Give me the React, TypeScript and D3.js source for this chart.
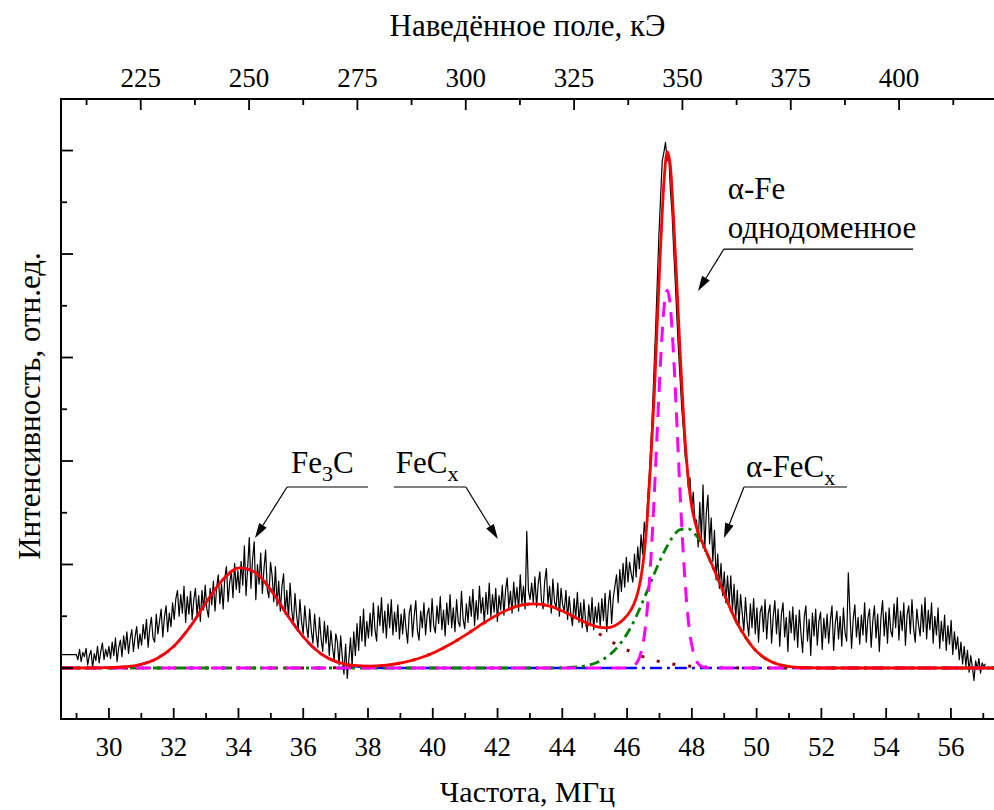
import React from 'react';
import * as d3 from 'd3';

const WIDTH = 994;
const HEIGHT = 810;
const FONT = 'Liberation Serif';

// ---- axes ----
const freqExtent: [number, number] = [28.52, 57.33];
const fieldExtent: [number, number] = [206.6, 421.9];
const intensityExtent: [number, number] = [-0.493, 5.498];

const freqMajor = [30, 32, 34, 36, 38, 40, 42, 44, 46, 48, 50, 52, 54, 56];
const freqMinor = [29, 31, 33, 35, 37, 39, 41, 43, 45, 47, 49, 51, 53, 55, 57];
const fieldMajor = [225, 250, 275, 300, 325, 350, 375, 400];
const fieldMinor = [212.5, 237.5, 262.5, 287.5, 312.5, 337.5, 362.5, 387.5, 412.5];
const intensityMajor = [0, 1, 2, 3, 4, 5];
const intensityMinor = [0.5, 1.5, 2.5, 3.5, 4.5];

// ---- measured spectrum (black) ----
const signalLead: [number, number] = [28.52, 0.13];
const signalStart = 28.992;
const signalStep = 0.0504;
const signal = [
  0.13,0.08,0.18,0.06,0.15,0.11,0.19,0.03,0.12,0.17,0.00,0.14,0.07,0.21,0.05,0.16,0.24,0.08,0.18,0.11,
  0.21,0.09,0.25,0.12,0.29,0.06,0.20,0.27,0.11,0.31,0.18,0.35,0.14,0.28,0.37,0.16,0.30,0.40,0.19,0.33,
  0.22,0.42,0.28,0.47,0.20,0.38,0.49,0.29,0.25,0.52,0.33,0.45,0.57,0.30,0.49,0.60,0.35,0.53,0.40,0.63,
  0.47,0.67,0.75,0.50,0.71,0.53,0.79,0.44,0.69,0.52,0.74,0.47,0.66,0.77,0.51,0.70,0.45,0.75,0.56,0.80,
  0.57,0.49,0.77,0.61,0.84,0.55,0.78,0.90,0.62,0.81,0.57,0.87,0.98,0.64,0.83,0.93,0.68,1.01,0.76,0.94,
  0.73,1.03,0.80,1.18,0.70,0.97,1.26,0.77,1.05,1.22,0.66,1.00,0.81,1.11,0.72,0.96,1.14,0.76,0.68,1.02,
  0.89,0.64,0.98,0.60,0.84,0.55,0.79,0.91,0.52,0.75,0.48,0.82,0.56,0.42,0.72,0.51,0.37,0.66,0.45,0.33,
  0.60,0.41,0.29,0.57,0.36,0.24,0.52,0.33,0.20,0.49,0.28,0.16,0.45,0.24,0.41,0.12,0.36,0.20,0.07,0.33,
  0.25,0.03,0.31,0.10,-0.06,0.23,-0.10,0.08,0.29,0.02,0.35,0.12,0.43,0.17,0.50,0.26,0.57,0.21,0.45,0.29,
  0.53,0.31,0.63,0.37,0.26,0.60,0.41,0.68,0.34,0.55,0.29,0.62,0.39,0.66,0.32,0.54,0.35,0.61,0.28,0.52,
  0.33,0.57,0.38,0.24,0.53,0.61,0.30,0.50,0.65,0.36,0.27,0.55,0.39,0.63,0.32,0.52,0.58,0.35,0.67,0.41,
  0.34,0.60,0.43,0.69,0.37,0.56,0.31,0.63,0.42,0.71,0.39,0.58,0.35,0.66,0.45,0.40,0.74,0.47,0.38,0.62,
  0.44,0.69,0.50,0.76,0.41,0.65,0.47,0.79,0.53,0.68,0.43,0.73,0.52,0.82,0.49,0.71,0.54,0.77,0.45,0.70,
  0.56,0.80,0.51,0.75,0.87,0.58,0.74,0.53,0.83,0.61,0.78,0.55,0.90,0.62,0.79,0.57,1.32,0.75,0.66,0.82,
  0.63,0.88,0.59,0.81,0.93,0.65,0.57,0.84,0.96,0.62,0.79,0.53,0.86,0.64,0.58,0.82,0.50,0.77,0.61,0.55,
  0.75,0.47,0.69,0.52,0.41,0.67,0.48,0.73,0.44,0.63,0.39,0.66,0.46,0.35,0.61,0.42,0.68,0.37,0.59,0.44,
  0.63,0.40,0.67,0.46,0.72,0.35,0.61,0.75,0.43,0.68,0.79,0.90,0.63,0.95,0.74,1.01,0.78,1.07,0.83,1.02,
  0.91,0.83,1.10,0.88,1.17,0.96,1.29,1.10,1.41,1.25,1.62,1.85,2.15,2.48,2.90,3.30,3.75,4.20,4.55,4.90,
  4.98,5.08,4.90,4.95,4.62,4.40,4.05,3.72,3.38,3.05,2.78,2.50,2.30,2.05,1.95,1.74,1.84,1.52,1.70,1.41,
  1.43,1.17,1.60,1.25,1.77,1.13,1.50,1.67,1.20,1.45,1.03,1.33,0.85,1.10,0.77,1.01,0.70,0.93,0.63,0.89,
  0.63,0.89,0.55,0.81,0.47,0.75,0.40,0.71,0.53,0.36,0.68,0.45,0.31,0.62,0.39,0.67,0.33,0.58,0.25,0.54,
  0.60,0.35,0.66,0.28,0.53,0.61,0.24,0.50,0.65,0.33,0.57,0.21,0.52,0.63,0.30,0.49,0.16,0.55,0.34,0.59,
  0.27,0.51,0.20,0.56,0.33,0.15,0.49,0.60,0.26,0.47,0.12,0.53,0.31,0.57,0.22,0.45,0.54,0.18,0.48,0.29,
  0.52,0.24,0.46,0.60,0.17,0.43,0.55,0.28,0.50,0.21,0.58,0.34,0.26,0.92,0.53,0.19,0.47,0.61,0.30,0.49,
  0.23,0.51,0.32,0.63,0.25,0.48,0.57,0.20,0.45,0.60,0.29,0.52,0.16,0.49,0.65,0.31,0.54,0.24,0.58,0.36,
  0.30,0.62,0.39,0.68,0.27,0.55,0.36,0.63,0.22,0.51,0.60,0.33,0.66,0.38,0.25,0.57,0.42,0.31,0.61,0.35,
  0.68,0.28,0.56,0.37,0.63,0.24,0.50,0.32,0.58,0.19,0.45,0.26,0.51,0.17,0.41,0.23,0.46,0.13,0.35,0.18,
  0.30,0.08,0.25,0.04,0.21,0.02,0.17,-0.04,0.12,0.01,-0.12,0.07,-0.01,0.09,-0.05,0.05,0.01,0.04,
];

// ---- fit components [frequency, intensity] ----
const fitTotal: [number, number][] = [
  [28.52,0],[29.5,0.001],[30,0.003],[30.5,0.012],[31.01,0.036],[31.51,0.096],[32.02,0.215],[32.52,0.405],
  [33.02,0.642],[33.53,0.858],[34.03,0.967],[34.54,0.918],[35.04,0.735],[35.54,0.497],[36.05,0.283],
  [36.55,0.137],[37.06,0.057],[37.56,0.025],[38.06,0.018],[38.57,0.028],[39.07,0.052],[39.58,0.094],
  [40.08,0.155],[40.58,0.236],[41.09,0.334],[41.59,0.438],[42.1,0.531],[42.6,0.597],[43.1,0.62],
  [43.61,0.598],[44.11,0.535],[44.62,0.454],[45.12,0.394],[45.37,0.388],[45.62,0.409],[45.88,0.465],
  [46.13,0.567],[46.23,0.633],[46.33,0.728],[46.43,0.876],[46.53,1.109],[46.63,1.474],[46.73,1.99],
  [46.84,2.65],[46.94,3.4],[47.04,4.11],[47.14,4.7],[47.24,4.99],[47.34,4.84],[47.44,4.31],[47.54,3.69],
  [47.64,3.03],[47.74,2.45],[47.84,2.0],[47.94,1.68],[48.04,1.49],[48.14,1.36],[48.24,1.27],[48.34,1.2],
  [48.44,1.13],[48.54,1.058],[48.64,0.985],[48.9,0.792],[49.15,0.603],[49.4,0.434],[49.66,0.296],
  [49.91,0.19],[50.16,0.116],[50.41,0.067],[50.66,0.036],[51.17,0.009],[51.67,0.002],[52.18,0],[57.33,0],
];
const compFe3C: [number, number][] = [
  [28.52,0],[29.5,0.001],[30,0.003],[30.5,0.012],[31.01,0.036],[31.51,0.096],[32.02,0.215],[32.52,0.405],
  [33.02,0.642],[33.53,0.858],[34.03,0.967],[34.54,0.918],[35.04,0.735],[35.54,0.497],[36.05,0.283],
  [36.55,0.136],[37.06,0.055],[37.56,0.019],[38.06,0.005],[38.57,0.001],[39.07,0],[57.33,0],
];
const compFeCx: [number, number][] = [
  [28.52,0],[36.05,0],[37.06,0.002],[37.56,0.006],[38.06,0.013],[38.57,0.027],[39.07,0.052],[39.58,0.094],
  [40.08,0.155],[40.58,0.236],[41.09,0.334],[41.59,0.438],[42.1,0.531],[42.6,0.597],[43.1,0.62],
  [43.61,0.597],[44.11,0.531],[44.62,0.438],[45.12,0.334],[45.62,0.236],[46.13,0.155],[46.63,0.094],
  [47.14,0.052],[47.64,0.027],[48.14,0.013],[49.15,0.002],[50.16,0],[57.33,0],
];
const compAlphaFeCx: [number, number][] = [
  [28.52,0],[43.61,0],[44.11,0.004],[44.62,0.016],[45.12,0.06],[45.62,0.173],[46.13,0.402],[46.38,0.565],
  [46.63,0.75],[46.88,0.942],[47.14,1.119],[47.39,1.257],[47.64,1.337],[47.89,1.344],[48.14,1.278],
  [48.4,1.15],[48.64,0.979],[48.9,0.788],[49.15,0.6],[49.4,0.432],[49.66,0.295],[49.91,0.19],[50.16,0.116],
  [50.66,0.036],[51.17,0.009],[51.67,0.002],[52.18,0],[57.33,0],
];
const compAlphaFe: [number, number][] = [
  [28.52,0],[45.8,0],[46.14,0.01],[46.24,0.028],[46.34,0.07],[46.44,0.161],[46.54,0.33],[46.64,0.63],
  [46.74,1.08],[46.84,1.67],[46.94,2.35],[47.04,3.0],[47.14,3.48],[47.24,3.65],[47.34,3.48],[47.44,3.0],
  [47.54,2.35],[47.64,1.67],[47.74,1.08],[47.84,0.63],[47.94,0.33],[48.04,0.161],[48.14,0.07],
  [48.24,0.028],[48.34,0.01],[48.54,0],[57.33,0],
];

// ---- annotations (data coordinates) ----
type Part = { t: string; sub?: boolean };
type Note = {
  lines: { parts: Part[]; v: number }[];
  textF: number;
  barFrom: number;
  barTo: number;
  barV: number;
  elbowF: number;
  tip: [number, number];
};
const notes: Note[] = [
  { lines: [{ parts: [{ t: 'Fe' }, { t: '3', sub: true }, { t: 'C' }], v: 1.884 }],
    textF: 35.62, barFrom: 35.5, barTo: 38.0, barV: 1.749, elbowF: 35.5, tip: [34.51, 1.256] },
  { lines: [{ parts: [{ t: 'FeC' }, { t: 'x', sub: true }], v: 1.884 }],
    textF: 38.86, barFrom: 38.8, barTo: 41.02, barV: 1.749, elbowF: 41.02, tip: [42.01, 1.246] },
  { lines: [{ parts: [{ t: 'α-Fe' }], v: 4.531 }, { parts: [{ t: 'однодоменное' }], v: 4.155 }],
    textF: 49.11, barFrom: 48.99, barTo: 54.83, barV: 4.048, elbowF: 48.99, tip: [48.19, 3.643] },
  { lines: [{ parts: [{ t: 'α-FeC' }, { t: 'x', sub: true }], v: 1.845 }],
    textF: 49.67, barFrom: 49.61, barTo: 52.79, barV: 1.749, elbowF: 49.61, tip: [48.99, 1.256] },
];

const axisTitleBottom = 'Частота, МГц';
const axisTitleTop = 'Наведённое поле, кЭ';
const axisTitleLeft = 'Интенсивность, отн.ед.';

export default function App() {
  const L = 61, R = 994, T = 99, B = 719;
  const x = d3.scaleLinear().domain(freqExtent).range([L, R]);
  const xTop = d3.scaleLinear().domain(fieldExtent).range([L, R]);
  const y = d3.scaleLinear().domain(intensityExtent).range([B, T]);

  const raw = d3.line<[number, number]>().x((d) => x(d[0])).y((d) => y(d[1]));
  const smooth = d3
    .line<[number, number]>()
    .x((d) => x(d[0]))
    .y((d) => y(d[1]))
    .curve(d3.curveMonotoneX);

  const signalPts: [number, number][] = [
    signalLead,
    ...signal.map((v, i) => [signalStart + i * signalStep, v] as [number, number]),
  ];

  const comps = [
    { data: compFe3C, color: '#0000ff', dash: '12,5,3,5', w: 2.6 },
    { data: compFeCx, color: '#800000', dash: '3,13', w: 3 },
    { data: compAlphaFeCx, color: '#008000', dash: '10,5,3,5', w: 2.8 },
    { data: compAlphaFe, color: '#ff00ff', dash: '15,10', w: 3 },
  ];

  const tickFont = 27;

  return (
    <svg
      width={WIDTH}
      height={HEIGHT}
      style={{ position: 'absolute', left: 0, top: 0, display: 'block', background: '#fff' }}
    >
      <rect x={0} y={0} width={WIDTH} height={HEIGHT} fill="#fff" />

      {/* data */}
      <path d={raw(signalPts) || ''} fill="none" stroke="#000" strokeWidth={1.2} strokeLinejoin="round" />
      {comps.map((c, i) => (
        <path key={i} d={smooth(c.data) || ''} fill="none" stroke={c.color} strokeWidth={c.w} strokeDasharray={c.dash} />
      ))}
      <path d={smooth(fitTotal) || ''} fill="none" stroke="#ff0000" strokeWidth={2.8} />

      {/* axes */}
      <g stroke="#000" strokeWidth={2} strokeLinecap="square">
        <line x1={L} y1={T} x2={R} y2={T} />
        <line x1={L} y1={B} x2={R} y2={B} />
        <line x1={L} y1={T} x2={L} y2={B} />
      </g>
      <g stroke="#000" strokeWidth={1.8}>
        {freqMajor.map((f) => <line key={'bM' + f} x1={x(f)} x2={x(f)} y1={B} y2={B - 11} />)}
        {freqMinor.map((f) => <line key={'bm' + f} x1={x(f)} x2={x(f)} y1={B} y2={B - 6} />)}
        {fieldMajor.map((h) => <line key={'tM' + h} x1={xTop(h)} x2={xTop(h)} y1={T} y2={T + 11} />)}
        {fieldMinor.map((h) => <line key={'tm' + h} x1={xTop(h)} x2={xTop(h)} y1={T} y2={T + 6} />)}
        {intensityMajor.map((v) => <line key={'lM' + v} x1={L} x2={L + 12} y1={y(v)} y2={y(v)} />)}
        {intensityMinor.map((v) => <line key={'lm' + v} x1={L} x2={L + 6} y1={y(v)} y2={y(v)} />)}
      </g>
      {freqMajor.map((f) => (
        <text key={'bl' + f} x={x(f)} y={756} fontFamily={FONT} fontSize={tickFont} textAnchor="middle" fill="#000">{f}</text>
      ))}
      {fieldMajor.map((h) => (
        <text key={'tl' + h} x={xTop(h)} y={87} fontFamily={FONT} fontSize={tickFont} textAnchor="middle" fill="#000">{h}</text>
      ))}
      <text x={(L + R) / 2} y={802} fontFamily={FONT} fontSize={30} textAnchor="middle">{axisTitleBottom}</text>
      <text x={(L + R) / 2} y={36} fontFamily={FONT} fontSize={31} textAnchor="middle">{axisTitleTop}</text>
      <text transform={`translate(40,406) rotate(-90)`} fontFamily={FONT} fontSize={31} textAnchor="middle">{axisTitleLeft}</text>

      {/* annotations */}
      {notes.map((n, i) => {
        const tx = x(n.tip[0]), ty = y(n.tip[1]);
        const ex = x(n.elbowF), ey = y(n.barV);
        const dx = tx - ex, dy = ty - ey;
        const len = Math.hypot(dx, dy);
        const ux = dx / len, uy = dy / len;
        const ah = 15, aw = 4.5;
        const bx = tx - ux * ah, by = ty - uy * ah;
        const head = `${tx},${ty} ${bx - uy * aw},${by + ux * aw} ${bx + uy * aw},${by - ux * aw}`;
        return (
          <g key={'n' + i}>
            {n.lines.map((ln, j) => (
              <text key={j} x={x(n.textF)} y={y(ln.v)} fontFamily={FONT} fontSize={31}>
                {ln.parts.map((p, k) => (
                  <tspan
                    key={k}
                    dy={p.sub ? 8 : k > 0 && ln.parts[k - 1].sub ? -8 : 0}
                    fontSize={p.sub ? 22 : 31}
                  >
                    {p.t}
                  </tspan>
                ))}
              </text>
            ))}
            <line x1={x(n.barFrom)} x2={x(n.barTo)} y1={ey} y2={ey} stroke="#000" strokeWidth={1.2} />
            <line x1={ex} y1={ey} x2={bx} y2={by} stroke="#000" strokeWidth={1.2} />
            <polygon points={head} fill="#000" />
          </g>
        );
      })}
    </svg>
  );
}
